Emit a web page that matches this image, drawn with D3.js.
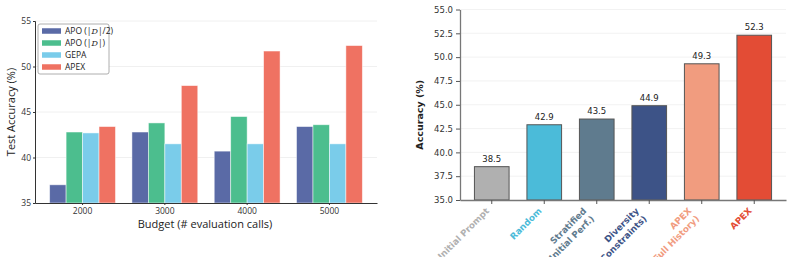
<!DOCTYPE html>
<html>
<head>
<meta charset="utf-8">
<script src="https://cdn.jsdelivr.net/npm/d3@7"></script>
<style>
  body { margin: 0; background: #fff; }
  svg { display: block; }
</style>
</head>
<body>
<div id="wrapper"></div>
<script>
// left chart data
const budgets = ["2000", "3000", "4000", "5000"]
const methods = ["APO (|D|/2)", "APO (|D|)", "GEPA", "APEX"]
const methodColors = ["#5a6aa6", "#4cbe8e", "#7accea", "#ef7262"]
const apoHalf = [37.0, 42.8, 40.7, 43.4]
const apoFull = [42.8, 43.8, 44.5, 43.6]
const gepa = [42.7, 41.5, 41.5, 41.5]
const apex = [43.4, 47.9, 51.7, 52.3]
const leftTicks = [35, 40, 45, 50, 55]

// right chart data
const strategies = ["Initial Prompt", "Random", "Stratified\n(Initial Perf.)", "Diversity\n(Constraints)", "APEX\n(Full History)", "APEX"]
const strategyValues = [38.5, 42.9, 43.5, 44.9, 49.3, 52.3]
const strategyColors = ["#b0b0b0", "#4bbbd9", "#5f7b8e", "#3d5387", "#f19c7f", "#e34c35"]
const rightTicks = [35, 37.5, 40, 42.5, 45, 47.5, 50, 52.5, 55]

const svg = d3.select("#wrapper").append("svg")
  .attr("width", 793)
  .attr("height", 257)

// ---------- LEFT CHART ----------
const L = { left: 35, right: 377, top: 21, bottom: 203 }
const leftFont = "'Open Sans', Roboto, sans-serif"

const lx = d3.scaleBand()
  .domain(budgets)
  .range([L.left, L.right])
  .paddingInner(0)
  .paddingOuter(0.078)

const lxInner = d3.scaleBand()
  .domain(methods)
  .range([0, lx.bandwidth() * 0.8])

const ly = d3.scaleLinear()
  .domain([35, 55])
  .range([L.bottom, L.top])

const left = svg.append("g")

// grid
left.append("g").selectAll("line")
  .data(leftTicks.slice(1))
  .join("line")
  .attr("x1", L.left).attr("x2", L.right)
  .attr("y1", d => ly(d)).attr("y2", d => ly(d))
  .attr("stroke", "#ececec")
  .attr("stroke-width", 0.8)

const series = [apoHalf, apoFull, gepa, apex]
const leftRows = []
budgets.forEach((b, i) => {
  methods.forEach((m, j) => leftRows.push({ budget: b, method: m, value: series[j][i], color: methodColors[j] }))
})

left.append("g").selectAll("rect")
  .data(leftRows)
  .join("rect")
  .attr("x", d => lx(d.budget) + lx.bandwidth() * 0.1 + lxInner(d.method))
  .attr("width", lxInner.bandwidth())
  .attr("y", d => ly(d.value))
  .attr("height", d => ly(35) - ly(d.value))
  .attr("fill", d => d.color)
  .attr("stroke", "rgba(255,255,255,0.6)")
  .attr("stroke-width", 0.8)

// axes
const lyAxis = left.append("g")
  .attr("transform", `translate(${L.left},0)`)
  .call(d3.axisLeft(ly).tickValues(leftTicks).tickSize(2).tickPadding(2))
lyAxis.select(".domain").attr("stroke", "#333").attr("stroke-width", 1)
lyAxis.selectAll(".tick line").attr("stroke", "#333")
lyAxis.selectAll("text").attr("font-family", leftFont).attr("font-size", 8.5).attr("fill", "#333")

const lxAxis = left.append("g")
  .attr("transform", `translate(0,${L.bottom})`)
  .call(d3.axisBottom(lx).tickSize(2).tickPadding(3).tickSizeOuter(0))
lxAxis.select(".domain").attr("stroke", "#333").attr("stroke-width", 1)
lxAxis.selectAll(".tick line").attr("stroke", "#333")
lxAxis.selectAll("text").attr("font-family", leftFont).attr("font-size", 8.5).attr("fill", "#333")

left.append("text")
  .attr("x", 205)
  .attr("y", 228)
  .attr("text-anchor", "middle")
  .attr("font-family", leftFont)
  .attr("font-size", 11)
  .attr("fill", "#222")
  .text("Budget (# evaluation calls)")

left.append("text")
  .attr("transform", `translate(15,${(L.top + L.bottom) / 2}) rotate(-90)`)
  .attr("text-anchor", "middle")
  .attr("font-family", leftFont)
  .attr("font-size", 11)
  .attr("fill", "#222")
  .text("Test Accuracy (%)")

// legend
const legend = left.append("g").attr("transform", "translate(38,24)")
legend.append("rect")
  .attr("width", 71).attr("height", 50)
  .attr("rx", 2)
  .attr("fill", "#fff")
  .attr("stroke", "#999")
  .attr("stroke-width", 0.8)
const legendItems = legend.selectAll("g.item")
  .data(methods)
  .join("g")
  .attr("class", "item")
  .attr("transform", (d, i) => `translate(4,${7 + i * 12})`)
legendItems.append("rect")
  .attr("width", 19).attr("height", 5.5)
  .attr("y", -2.75)
  .attr("fill", (d, i) => methodColors[i])
const legendText = legendItems.append("text")
  .attr("x", 23)
  .attr("dy", "0.35em")
  .attr("font-family", leftFont)
  .attr("font-size", 8.5)
  .attr("fill", "#222")
// the dataset symbol D is drawn as a script/italic letter
legendText.each(function (d) {
  const parts = d.split("D")
  const t = d3.select(this)
  parts.forEach((p, i) => {
    t.append("tspan").text(p)
    if (i < parts.length - 1) {
      t.append("tspan")
        .attr("font-family", "'DejaVu Serif', serif")
        .attr("font-style", "italic")
        .attr("font-size", 8)
        .text("D")
    }
  })
})

// ---------- RIGHT CHART ----------
const R = { left: 460, right: 786, top: 9.5, bottom: 200 }
const rightFont = "'DejaVu Sans', sans-serif"

const rx = d3.scaleBand()
  .domain(strategies)
  .range([R.left, R.right])
  .paddingInner(0)
  .paddingOuter(0.105)

const ry = d3.scaleLinear()
  .domain([35, 55])
  .range([R.bottom, R.top])

const right = svg.append("g")

right.append("g").selectAll("line")
  .data(rightTicks.slice(1))
  .join("line")
  .attr("x1", R.left).attr("x2", R.right)
  .attr("y1", d => ry(d)).attr("y2", d => ry(d))
  .attr("stroke", "#efefef")
  .attr("stroke-width", 0.8)

const barW = rx.bandwidth() * 0.66
const rightRows = strategies.map((s, i) => ({ name: s, value: strategyValues[i], color: strategyColors[i] }))

right.append("g").selectAll("rect")
  .data(rightRows)
  .join("rect")
  .attr("x", d => rx(d.name) + (rx.bandwidth() - barW) / 2)
  .attr("width", barW)
  .attr("y", d => ry(d.value))
  .attr("height", d => ry(35) - ry(d.value))
  .attr("fill", d => d.color)
  .attr("stroke", "#555")
  .attr("stroke-width", 1)

right.append("g").selectAll("text")
  .data(rightRows)
  .join("text")
  .attr("x", d => rx(d.name) + rx.bandwidth() / 2)
  .attr("y", d => ry(d.value) - 5)
  .attr("text-anchor", "middle")
  .attr("font-family", rightFont)
  .attr("font-size", 8.5)
  .attr("fill", "#222")
  .text(d => d.value.toFixed(1))

const ryAxis = right.append("g")
  .attr("transform", `translate(${R.left},0)`)
  .call(d3.axisLeft(ry).tickValues(rightTicks).tickFormat(d3.format(".1f")).tickSize(4).tickPadding(3).tickSizeOuter(0))
ryAxis.select(".domain").attr("stroke", "#777").attr("stroke-width", 1.3)
ryAxis.selectAll(".tick line").attr("stroke", "#555")
ryAxis.selectAll("text").attr("font-family", rightFont).attr("font-size", 8.5).attr("fill", "#333")

const rxAxis = right.append("g")
  .attr("transform", `translate(0,${R.bottom})`)
  .call(d3.axisBottom(rx).tickSize(4).tickSizeOuter(0).tickFormat(""))
rxAxis.select(".domain").attr("stroke", "#777").attr("stroke-width", 1.3)
rxAxis.selectAll(".tick line").attr("stroke", "#555")

// rotated, coloured tick labels
const lh = 11
const xLabels = right.append("g").selectAll("text")
  .data(rightRows)
  .join("text")
  .attr("transform", d => {
    const n = d.name.split("\n").length
    const cx = rx(d.name) + rx.bandwidth() / 2 - 2
    const cy = 211.5 + (n - 1) * lh * 0.707
    return `translate(${cx},${cy}) rotate(-45)`
  })
  .attr("text-anchor", "end")
  .attr("font-family", rightFont)
  .attr("font-weight", "bold")
  .attr("font-size", 8.8)
  .attr("fill", d => d.color)
xLabels.selectAll("tspan")
  .data(d => {
    const lines = d.name.split("\n")
    return lines.map((t, i) => ({ t, y: (i - (lines.length - 1)) * lh }))
  })
  .join("tspan")
  .attr("x", 0)
  .attr("y", d => d.y)
  .text(d => d.t)

right.append("text")
  .attr("transform", `translate(423,${(R.top + R.bottom) / 2 + 10}) rotate(-90)`)
  .attr("text-anchor", "middle")
  .attr("font-family", rightFont)
  .attr("font-weight", "bold")
  .attr("font-size", 9.5)
  .attr("fill", "#222")
  .text("Accuracy (%)")
</script>
</body>
</html>
